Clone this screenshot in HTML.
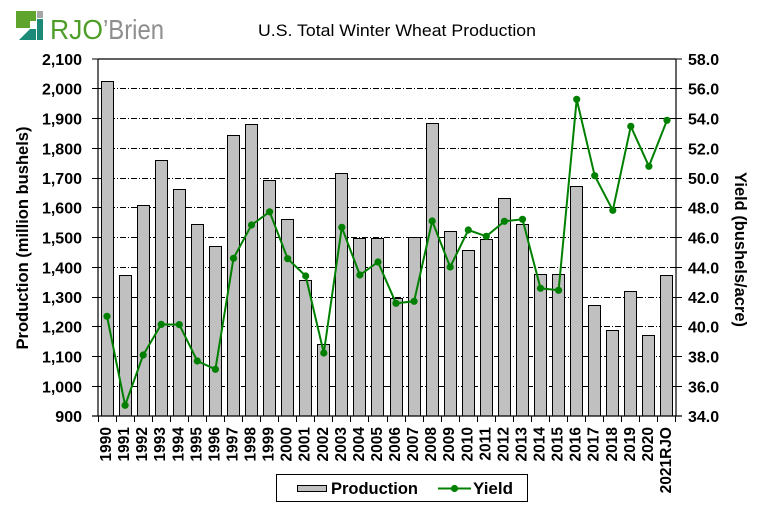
<!DOCTYPE html>
<html>
<head>
<meta charset="utf-8">
<style>
html,body{margin:0;padding:0;background:#fff;}
svg{display:block;}
text{font-family:"Liberation Sans",Arial,sans-serif;font-weight:bold;fill:#000;}
</style>
</head>
<body>
<svg width="763" height="516" viewBox="0 0 763 516" xmlns="http://www.w3.org/2000/svg">
<defs>
<marker id="m" markerWidth="8" markerHeight="8" refX="4" refY="4" markerUnits="userSpaceOnUse">
<circle cx="4" cy="4" r="3.6" fill="#008000"/>
</marker>
</defs>
<rect x="0" y="0" width="763" height="516" fill="#fff"/>

<!-- Logo -->
<g>
<rect x="16" y="11" width="20" height="17" fill="#5fa52d"/>
<rect x="30" y="21" width="6" height="7" fill="#fff"/>
<rect x="37" y="11" width="6" height="7" fill="#a6a6a6"/>
<rect x="37" y="19" width="6" height="21" fill="#1b8a78"/>
<polygon points="19,40 30,29 36,29 36,40" fill="#1b8a78"/>
<text x="50" y="39" font-size="28" style="font-weight:normal;fill:#4f9e2a" textLength="53" lengthAdjust="spacingAndGlyphs">RJO</text>
<text x="103" y="39" font-size="28" style="font-weight:normal;fill:#8e8e8e" textLength="61" lengthAdjust="spacingAndGlyphs">’Brien</text>
</g>

<!-- Title -->
<text x="258" y="36" font-size="16.5" style="font-weight:normal" textLength="278" lengthAdjust="spacingAndGlyphs">U.S. Total Winter Wheat Production</text>

<!-- Gridlines -->
<g stroke="#000" stroke-width="1" stroke-dasharray="6,2,1,2">
<line x1="98" y1="88.5" x2="676" y2="88.5"/>
<line x1="98" y1="118.5" x2="676" y2="118.5"/>
<line x1="98" y1="148.5" x2="676" y2="148.5"/>
<line x1="98" y1="178.5" x2="676" y2="178.5"/>
<line x1="98" y1="207.5" x2="676" y2="207.5"/>
<line x1="98" y1="237.5" x2="676" y2="237.5"/>
<line x1="98" y1="267.5" x2="676" y2="267.5"/>
<line x1="98" y1="297.5" x2="676" y2="297.5"/>
<line x1="98" y1="326.5" x2="676" y2="326.5"/>
<line x1="98" y1="356.5" x2="676" y2="356.5"/>
<line x1="98" y1="386.5" x2="676" y2="386.5"/>
</g>

<!-- Bars -->
<g fill="#c0c0c0" stroke="#000" stroke-width="1">
<rect x="101.5" y="81.5" width="12" height="334.5"/>
<rect x="119.5" y="275.5" width="12" height="140.5"/>
<rect x="137.5" y="205.5" width="12" height="210.5"/>
<rect x="155.5" y="160.5" width="12" height="255.5"/>
<rect x="173.5" y="189.5" width="12" height="226.5"/>
<rect x="191.5" y="224.5" width="12" height="191.5"/>
<rect x="209.5" y="246.5" width="12" height="169.5"/>
<rect x="227.5" y="135.5" width="12" height="280.5"/>
<rect x="245.5" y="124.5" width="12" height="291.5"/>
<rect x="263.5" y="180.5" width="12" height="235.5"/>
<rect x="281.5" y="219.5" width="12" height="196.5"/>
<rect x="299.5" y="280.5" width="12" height="135.5"/>
<rect x="317.5" y="344.5" width="12" height="71.5"/>
<rect x="335.5" y="173.5" width="12" height="242.5"/>
<rect x="353.5" y="238.5" width="12" height="177.5"/>
<rect x="371.5" y="238.5" width="12" height="177.5"/>
<rect x="390.5" y="298.5" width="12" height="117.5"/>
<rect x="408.5" y="237.5" width="12" height="178.5"/>
<rect x="426.5" y="123.5" width="12" height="292.5"/>
<rect x="444.5" y="231.5" width="12" height="184.5"/>
<rect x="462.5" y="250.5" width="12" height="165.5"/>
<rect x="480.5" y="239.5" width="12" height="176.5"/>
<rect x="498.5" y="198.5" width="12" height="217.5"/>
<rect x="516.5" y="224.5" width="12" height="191.5"/>
<rect x="534.5" y="274.5" width="12" height="141.5"/>
<rect x="552.5" y="274.5" width="12" height="141.5"/>
<rect x="570.5" y="186.5" width="12" height="229.5"/>
<rect x="588.5" y="305.5" width="12" height="110.5"/>
<rect x="606.5" y="330.5" width="12" height="85.5"/>
<rect x="624.5" y="291.5" width="12" height="124.5"/>
<rect x="642.5" y="335.5" width="12" height="80.5"/>
<rect x="660.5" y="275.5" width="12" height="140.5"/>
</g>

<!-- Axes & border -->
<g stroke="#000" stroke-width="1.2" fill="none">
<line x1="98" y1="59" x2="676" y2="59"/>
<line x1="98" y1="59" x2="98" y2="416.5"/>
<line x1="676" y1="59" x2="676" y2="416.5"/>
<line x1="92" y1="416" x2="682" y2="416"/>
</g>
<g stroke="#000" stroke-width="1">
<!-- left ticks -->
<line x1="92" y1="59" x2="98" y2="59"/>
<line x1="92" y1="88.5" x2="98" y2="88.5"/>
<line x1="92" y1="118.5" x2="98" y2="118.5"/>
<line x1="92" y1="148.5" x2="98" y2="148.5"/>
<line x1="92" y1="178.5" x2="98" y2="178.5"/>
<line x1="92" y1="207.5" x2="98" y2="207.5"/>
<line x1="92" y1="237.5" x2="98" y2="237.5"/>
<line x1="92" y1="267.5" x2="98" y2="267.5"/>
<line x1="92" y1="297.5" x2="98" y2="297.5"/>
<line x1="92" y1="326.5" x2="98" y2="326.5"/>
<line x1="92" y1="356.5" x2="98" y2="356.5"/>
<line x1="92" y1="386.5" x2="98" y2="386.5"/>
<!-- right ticks -->
<line x1="676" y1="59" x2="682" y2="59"/>
<line x1="676" y1="88.5" x2="682" y2="88.5"/>
<line x1="676" y1="118.5" x2="682" y2="118.5"/>
<line x1="676" y1="148.5" x2="682" y2="148.5"/>
<line x1="676" y1="178.5" x2="682" y2="178.5"/>
<line x1="676" y1="207.5" x2="682" y2="207.5"/>
<line x1="676" y1="237.5" x2="682" y2="237.5"/>
<line x1="676" y1="267.5" x2="682" y2="267.5"/>
<line x1="676" y1="297.5" x2="682" y2="297.5"/>
<line x1="676" y1="326.5" x2="682" y2="326.5"/>
<line x1="676" y1="356.5" x2="682" y2="356.5"/>
<line x1="676" y1="386.5" x2="682" y2="386.5"/>
<!-- bottom ticks -->
<line x1="98.5" y1="416" x2="98.5" y2="422"/>
<line x1="116.5" y1="416" x2="116.5" y2="422"/>
<line x1="134.5" y1="416" x2="134.5" y2="422"/>
<line x1="152.5" y1="416" x2="152.5" y2="422"/>
<line x1="170.5" y1="416" x2="170.5" y2="422"/>
<line x1="188.5" y1="416" x2="188.5" y2="422"/>
<line x1="206.5" y1="416" x2="206.5" y2="422"/>
<line x1="224.5" y1="416" x2="224.5" y2="422"/>
<line x1="242.5" y1="416" x2="242.5" y2="422"/>
<line x1="260.5" y1="416" x2="260.5" y2="422"/>
<line x1="278.5" y1="416" x2="278.5" y2="422"/>
<line x1="296.5" y1="416" x2="296.5" y2="422"/>
<line x1="314.5" y1="416" x2="314.5" y2="422"/>
<line x1="332.5" y1="416" x2="332.5" y2="422"/>
<line x1="350.5" y1="416" x2="350.5" y2="422"/>
<line x1="368.5" y1="416" x2="368.5" y2="422"/>
<line x1="387.5" y1="416" x2="387.5" y2="422"/>
<line x1="405.5" y1="416" x2="405.5" y2="422"/>
<line x1="423.5" y1="416" x2="423.5" y2="422"/>
<line x1="441.5" y1="416" x2="441.5" y2="422"/>
<line x1="459.5" y1="416" x2="459.5" y2="422"/>
<line x1="477.5" y1="416" x2="477.5" y2="422"/>
<line x1="495.5" y1="416" x2="495.5" y2="422"/>
<line x1="513.5" y1="416" x2="513.5" y2="422"/>
<line x1="531.5" y1="416" x2="531.5" y2="422"/>
<line x1="549.5" y1="416" x2="549.5" y2="422"/>
<line x1="567.5" y1="416" x2="567.5" y2="422"/>
<line x1="585.5" y1="416" x2="585.5" y2="422"/>
<line x1="603.5" y1="416" x2="603.5" y2="422"/>
<line x1="621.5" y1="416" x2="621.5" y2="422"/>
<line x1="639.5" y1="416" x2="639.5" y2="422"/>
<line x1="657.5" y1="416" x2="657.5" y2="422"/>
<line x1="675.5" y1="416" x2="675.5" y2="422"/>
</g>

<!-- Yield line -->
<polyline fill="none" stroke="#008000" stroke-width="2" marker-start="url(#m)" marker-mid="url(#m)" marker-end="url(#m)"
points="107.0,316.3 125.1,405.3 143.2,355.0 161.2,324.4 179.3,324.6 197.3,361.0 215.4,369.3 233.5,258.3 251.5,225.0 269.6,211.8 287.7,258.7 305.7,276.0 323.8,353.0 341.8,227.3 359.9,275.0 378.0,262.0 396.0,303.3 414.1,301.3 432.2,221.0 450.2,267.0 468.3,230.0 486.3,236.3 504.4,221.3 522.5,219.3 540.5,288.3 558.6,290.3 576.7,99.3 594.7,175.7 612.8,210.3 630.8,126.3 648.9,166.3 667.0,120.3"/>

<!-- Left tick labels -->
<g font-size="16" text-anchor="end">
<text x="82" y="65">2,100</text>
<text x="82" y="94.5">2,000</text>
<text x="82" y="124.5">1,900</text>
<text x="82" y="154.5">1,800</text>
<text x="82" y="184">1,700</text>
<text x="82" y="213.5">1,600</text>
<text x="82" y="243.5">1,500</text>
<text x="82" y="273.5">1,400</text>
<text x="82" y="303">1,300</text>
<text x="82" y="332.5">1,200</text>
<text x="82" y="362.5">1,100</text>
<text x="82" y="392.5">1,000</text>
<text x="82" y="422">900</text>
</g>

<!-- Right tick labels -->
<g font-size="16" text-anchor="start">
<text x="688" y="65">58.0</text>
<text x="688" y="94.5">56.0</text>
<text x="688" y="124.5">54.0</text>
<text x="688" y="154.5">52.0</text>
<text x="688" y="184">50.0</text>
<text x="688" y="213.5">48.0</text>
<text x="688" y="243.5">46.0</text>
<text x="688" y="273.5">44.0</text>
<text x="688" y="303">42.0</text>
<text x="688" y="332.5">40.0</text>
<text x="688" y="362.5">38.0</text>
<text x="688" y="392.5">36.0</text>
<text x="688" y="422">34.0</text>
</g>

<!-- Axis titles -->
<text transform="translate(28,238) rotate(-90)" font-size="16.5" text-anchor="middle" textLength="223" lengthAdjust="spacingAndGlyphs">Production (million bushels)</text>
<text transform="translate(735,249.5) rotate(90)" font-size="16.5" text-anchor="middle" textLength="155" lengthAdjust="spacingAndGlyphs">Yield (bushels/acre)</text>

<!-- X labels -->
<g font-size="15.5" text-anchor="end">
<text transform="translate(111.0,427) rotate(-90)">1990</text>
<text transform="translate(129.1,427) rotate(-90)">1991</text>
<text transform="translate(147.2,427) rotate(-90)">1992</text>
<text transform="translate(165.2,427) rotate(-90)">1993</text>
<text transform="translate(183.3,427) rotate(-90)">1994</text>
<text transform="translate(201.3,427) rotate(-90)">1995</text>
<text transform="translate(219.4,427) rotate(-90)">1996</text>
<text transform="translate(237.5,427) rotate(-90)">1997</text>
<text transform="translate(255.5,427) rotate(-90)">1998</text>
<text transform="translate(273.6,427) rotate(-90)">1999</text>
<text transform="translate(291.7,427) rotate(-90)">2000</text>
<text transform="translate(309.7,427) rotate(-90)">2001</text>
<text transform="translate(327.8,427) rotate(-90)">2002</text>
<text transform="translate(345.8,427) rotate(-90)">2003</text>
<text transform="translate(363.9,427) rotate(-90)">2004</text>
<text transform="translate(382.0,427) rotate(-90)">2005</text>
<text transform="translate(400.0,427) rotate(-90)">2006</text>
<text transform="translate(418.1,427) rotate(-90)">2007</text>
<text transform="translate(436.2,427) rotate(-90)">2008</text>
<text transform="translate(454.2,427) rotate(-90)">2009</text>
<text transform="translate(472.3,427) rotate(-90)">2010</text>
<text transform="translate(490.3,427) rotate(-90)">2011</text>
<text transform="translate(508.4,427) rotate(-90)">2012</text>
<text transform="translate(526.5,427) rotate(-90)">2013</text>
<text transform="translate(544.5,427) rotate(-90)">2014</text>
<text transform="translate(562.6,427) rotate(-90)">2015</text>
<text transform="translate(580.7,427) rotate(-90)">2016</text>
<text transform="translate(598.7,427) rotate(-90)">2017</text>
<text transform="translate(616.8,427) rotate(-90)">2018</text>
<text transform="translate(634.8,427) rotate(-90)">2019</text>
<text transform="translate(652.9,427) rotate(-90)">2020</text>
<text transform="translate(671.0,427) rotate(-90)">2021RJO</text>
</g>

<!-- Legend -->
<rect x="276.5" y="474.5" width="251" height="27" fill="#fff" stroke="#000" stroke-width="1"/>
<rect x="297.5" y="485.5" width="29" height="6" fill="#c0c0c0" stroke="#000" stroke-width="1"/>
<text x="331" y="494" font-size="16.5" textLength="87" lengthAdjust="spacingAndGlyphs">Production</text>
<line x1="438" y1="488.5" x2="471" y2="488.5" stroke="#008000" stroke-width="2"/>
<circle cx="454.5" cy="488.5" r="3.6" fill="#008000"/>
<text x="473" y="494" font-size="16.5" textLength="40" lengthAdjust="spacingAndGlyphs">Yield</text>
</svg>
</body>
</html>
